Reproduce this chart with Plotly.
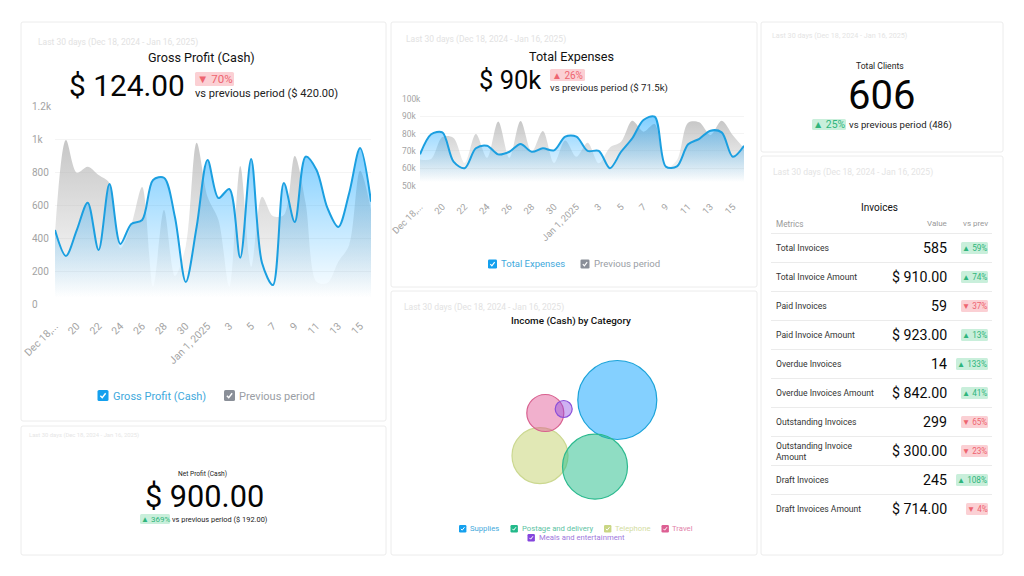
import plotly.graph_objects as go

W, H = 1024, 576
FONT = "Roboto"

# ---------- data ----------
days = ["Dec 18","Dec 19","Dec 20","Dec 21","Dec 22","Dec 23","Dec 24","Dec 25","Dec 26","Dec 27",
        "Dec 28","Dec 29","Dec 30","Dec 31","Jan 1","Jan 2","Jan 3","Jan 4","Jan 5","Jan 6",
        "Jan 7","Jan 8","Jan 9","Jan 10","Jan 11","Jan 12","Jan 13","Jan 14","Jan 15","Jan 16"]
tick_days = days[0::2]
tick_labels_a = ["Dec 18,...","20","22","24","26","28","30","Jan 1, 2025","3","5","7","9","11","13","15"]
tick_labels_b = ["Dec 18,...","20","22","24","26","28","30","Jan 1, 2025","3","5","7","9","11","13","15"]

gross_profit = [448,291,448,614,327,727,364,485,509,752,765,529,133,468,873,642,697,281,879,248,115,733,497,893,812,582,467,673,945,620]
gross_prev   = [430,994,796,832,782,733,339,479,709,105,570,170,350,978,650,509,105,836,226,650,533,539,897,612,135,127,256,358,808,570]
gp_ticks = [0,200,400,600,800,1000,1200]
gp_tick_text = ["0","200","400","600","800","1k","1.2k"]

expenses      = [68,79.6,80.7,63.8,60,71.5,73,68,69.5,74,69.5,71.5,70.3,78.2,78.2,70,70,60,69.5,77.3,87.9,89.8,60.9,61,73.8,77,81.7,80.7,66.6,73]
expenses_prev = [65,65.3,78,77.5,63,79.7,66,87,66,87.3,69.5,81.5,63,76,66.6,74.7,62.8,72,75.3,87.4,81.1,85.5,60,64.7,86.3,86.5,79.2,87.4,79,71.5]
ex_ticks = [50,60,70,80,90,100]
ex_tick_text = ["50k","60k","70k","80k","90k","100k"]

bubble_names = ["Telephone","Supplies","Postage and delivery","Travel","Meals and entertainment"]
bubble_x     = [140,217.3,195,145.3,163.7]
bubble_y     = [59.3,115,48.3,102,106]
bubble_size  = [56,79,65,37,17]
bubble_fill  = ["rgba(200,214,120,0.55)","rgba(20,165,255,0.52)","rgba(40,190,140,0.52)","rgba(226,90,150,0.48)","rgba(138,70,225,0.42)"]
bubble_line  = ["#cbd890","#1ba3d9","#2dba8f","#d8608f","#8a4fd8"]

metrics = ["Total Invoices","Total Invoice Amount","Paid Invoices","Paid Invoice Amount","Overdue Invoices",
           "Overdue Invoices Amount","Outstanding Invoices","Outstanding Invoice<br>Amount","Draft Invoices","Draft Invoices Amount"]
metric_values = ["585","$ 910.00","59","$ 923.00","14","$ 842.00","299","$ 300.00","245","$ 714.00"]
metric_change = [59,74,-37,13,133,41,-65,-23,108,-4]

PERIOD = "Last 30 days (Dec 18, 2024 - Jan 16, 2025)"

# ---------- helpers ----------
def px(x): return x / W
def py(y): return 1 - y / H

shapes, annots = [], []

def text(x, y, s, size, color="#111", anchor="left", weight=400):
    annots.append(dict(x=px(x), y=py(y), xref="paper", yref="paper", text=s, showarrow=False,
                       xanchor=anchor, yanchor="middle", align="left",
                       font=dict(family=FONT, size=size, color=color, weight=weight), borderpad=0, borderwidth=0))

def rrect(x0, y0, x1, y1, r, fill, line=None):
    a, b, c, d = px(x0), py(y0), px(x1), py(y1)
    rx, ry = r / W, r / H
    p = (f"M{a+rx},{b} L{c-rx},{b} Q{c},{b} {c},{b-ry} L{c},{d+ry} Q{c},{d} {c-rx},{d} "
         f"L{a+rx},{d} Q{a},{d} {a},{d+ry} L{a},{b-ry} Q{a},{b} {a+rx},{b} Z")
    shapes.append(dict(type="path", path=p, xref="paper", yref="paper", fillcolor=fill,
                       line=dict(color=line or fill, width=1 if line else 0), layer="below"))

def check(x0, y0, s, color):
    rrect(x0, y0, x0 + s, y0 + s, max(1.2, s * 0.14), color)
    p = (f"M{px(x0+s*.26)},{py(y0+s*.52)} L{px(x0+s*.43)},{py(y0+s*.70)} L{px(x0+s*.74)},{py(y0+s*.30)}")
    shapes.append(dict(type="path", path=p, xref="paper", yref="paper",
                       line=dict(color="white", width=max(1, s * 0.13)), layer="above"))

GREEN_BG, GREEN_TX, RED_BG, RED_TX = "#c9efdb", "#2fb57c", "#fbd0d4", "#ee6470"

def badge(x0, y0, x1, y1, pct, size):
    up, good = pct[0]
    arrow = "▲" if up else "▼"
    rrect(x0, y0, x1, y1, 1.5, GREEN_BG if good else RED_BG)
    text((x0 + x1) / 2, (y0 + y1) / 2, f"{arrow} {pct[1]}%", size, GREEN_TX if good else RED_TX, "center")

# ---------- cards ----------
for c in [(21,22,386,421),(21,426,386,555),(391,22,757,287),(391,291,757,555),(761,22,1003,152),(761,156,1003,555)]:
    rrect(*c, 2, "#ffffff", "#ececec")

# card 1
text(38, 42.5, PERIOD, 8.5, "#e2e2e2")
text(201, 58, "Gross Profit (Cash)", 12.6, "#111", "center")
text(126.5, 85.5, "$ 124.00", 29.8, "#050505", "center")
badge(195, 72, 234, 86, ((False, False), 70), 11.5)
text(195, 94, "vs previous period ($ 420.00)", 11.1, "#222")
check(97.5, 390, 11, "#14a0ee")
text(113, 396, "Gross Profit (Cash)", 11, "#3fa9dc")
check(224, 390, 11, "#8a8f98")
text(239, 396, "Previous period", 11, "#9a9ea5")

# card 2
text(29, 435.5, PERIOD, 5.85, "#e6e6e6")
text(202, 474, "Net Profit (Cash)", 6.6, "#222", "center")
text(204, 496, "$ 900.00", 30.7, "#050505", "center")
badge(140, 514, 170, 524, ((True, True), 369), 8)
text(172, 519, "vs previous period ($ 192.00)", 7.4, "#222")

# card 3
text(406, 40, PERIOD, 8.5, "#e2e2e2")
text(571, 56.5, "Total Expenses", 12.6, "#111", "center")
text(510, 80, "$ 90k", 25.5, "#050505", "center")
badge(550, 69, 585, 81, ((True, False), 26), 10)
text(550, 88, "vs previous period ($ 71.5k)", 9.6, "#222")
check(488, 259.5, 9, "#14a0ee")
text(501, 264, "Total Expenses", 9.5, "#3fa9dc")
check(580.5, 259.5, 9, "#8a8f98")
text(593.5, 264, "Previous period", 9.6, "#9a9ea5")

# card 4
text(404, 307, PERIOD, 8.5, "#e2e2e2")
text(571, 321, "Income (Cash) by Category", 9.9, "#111", "center", 500)
for x0, y0, col, tx, ty, name, tc in [
    (459, 525, "#14a0ee", 470, 528.5, "Supplies", "#3fa9dc"),
    (510.5, 525, "#22b98a", 521.5, 528.5, "Postage and delivery", "#5cc3a3"),
    (604, 525, "#c9d684", 614.5, 528.5, "Telephone", "#d3dd9f"),
    (661.5, 525, "#dd5f93", 672, 528.5, "Travel", "#e283aa"),
    (527.5, 534, "#8445dd", 538.5, 537.5, "Meals and entertainment", "#a077dd")]:
    check(x0, y0, 7.4, col)
    text(tx, ty, name, 7.7, tc)

# card 5
text(772, 35.5, PERIOD, 7.2, "#e4e4e4")
text(879.5, 66, "Total Clients", 8.6, "#222", "center")
text(881, 95, "606", 40, "#050505", "center")
badge(812, 119, 846, 130, ((True, True), 25), 10.4)
text(849, 125, "vs previous period (486)", 9.6, "#222")

# card 6
text(773, 172.5, PERIOD, 8.5, "#e4e4e4")
text(879, 207, "Invoices", 10, "#111", "center")
text(776, 224, "Metrics", 8.2, "#999")
text(947, 224, "Value", 8, "#999", "right")
text(988, 224, "vs prev", 8, "#999", "right")
row_h = 29.0
for i, (m, v, c) in enumerate(zip(metrics, metric_values, metric_change)):
    cy = 248 + row_h * i
    text(776, cy, m, 8.6, "#333")
    text(947, cy, v, 14.2, "#0a0a0a", "right")
    good = c > 0
    w = 8 + len(str(abs(c))) * 5 + 9
    badge(988 - w, cy - 6, 988, cy + 6, ((good, good), abs(c)), 8.2)
    yl = py(233.5 + row_h * i)
    shapes.append(dict(type="line", xref="paper", yref="paper", x0=px(771), x1=px(992), y0=yl, y1=yl,
                       line=dict(color="#ebebeb", width=1), layer="below"))

# ---------- figure ----------
fig = go.Figure()

def area(xa, ya, ys, color, top, start, stop, line=False, name=""):
    fig.add_trace(go.Scatter(
        x=days, y=ys, xaxis=xa, yaxis=ya, name=name, mode="lines",
        line=dict(shape="spline", smoothing=0.9, color=color if line else "rgba(0,0,0,0)", width=2 if line else 0),
        fill="tozeroy", fillcolor=top,
        fillgradient=dict(type="vertical", start=start, stop=stop,
                          colorscale=[[0, top], [1, top.rsplit(",", 1)[0] + ",0)"]]),
        hoverinfo="skip", showlegend=False))

GRAY = "rgba(176,176,176,0.72)"
BLUE = "rgba(20,165,255,0.55)"
area("x", "y", gross_prev, GRAY, GRAY, 1000, 40, name="Previous period")
area("x", "y", gross_profit, "#1b9fe0", BLUE, 950, 40, True, "Gross Profit (Cash)")
area("x2", "y2", expenses_prev, GRAY, GRAY, 88, 52, name="Previous period")
area("x2", "y2", expenses, "#1b9fe0", BLUE, 90, 52, True, "Total Expenses")

for n, bx, by, bs, bf, bl in zip(bubble_names, bubble_x, bubble_y, bubble_size, bubble_fill, bubble_line):
    fig.add_trace(go.Scatter(x=[bx], y=[by], xaxis="x3", yaxis="y3", name=n, mode="markers",
                             marker=dict(size=bs, sizemode="diameter", color=bf, line=dict(color=bl, width=1.2)),
                             hoverinfo="skip", showlegend=False))

# left-aligned value labels, placed through the y axes
for vals, labels, yr, x, size in [(gp_ticks, gp_tick_text, "y", 30, 10), (ex_ticks, ex_tick_text, "y2", 399.5, 8.4)]:
    for v, s in zip(vals, labels):
        annots.append(dict(x=px(x), y=v, xref="paper", yref=yr, text=s, showarrow=False, xanchor="left",
                           yanchor="middle", font=dict(family=FONT, size=size, color="#a3a3a3")))

def xax(dom, labels, size, standoff, anchor):
    return dict(domain=[px(dom[0]), px(dom[1])], type="category", categoryorder="array", categoryarray=days,
                anchor=anchor, range=[0, 29], tickmode="array", tickvals=tick_days, ticktext=labels, tickangle=-45,
                tickfont=dict(family=FONT, size=size, color="#a3a3a3"), showgrid=False, showline=False,
                zeroline=False, ticks="", ticklabelstandoff=standoff, automargin=False)

def yax(dom, rng, vals, anchor):
    return dict(domain=[py(dom[0]), py(dom[1])], range=rng, tickmode="array", tickvals=vals, showticklabels=False,
                anchor=anchor, showgrid=True, gridcolor="#f4f4f4", gridwidth=1, zeroline=False, showline=False,
                ticks="", automargin=False)

fig.update_layout(
    width=W, height=H, margin=dict(l=0, r=0, t=0, b=0), autosize=False,
    paper_bgcolor="white", plot_bgcolor="rgba(0,0,0,0)", showlegend=False,
    font=dict(family=FONT),
    xaxis=xax((55, 371), tick_labels_a, 10.4, 13, "y"),
    yaxis=yax((304, 106), [0, 1200], gp_ticks, "x"),
    xaxis2=xax((420, 744), tick_labels_b, 9.4, 13, "y2"),
    yaxis2=yax((185.5, 99), [50, 100], ex_ticks, "x2"),
    xaxis3=dict(domain=[px(400), px(750)], range=[0, 350], visible=False, anchor="y3"),
    yaxis3=dict(domain=[py(515), py(335)], range=[0, 180], visible=False, anchor="x3"),
    shapes=shapes, annotations=annots)

fig.write_html("out.html", config={"displayModeBar": False},
               post_script="document.body.style.margin='0';document.documentElement.style.overflow='hidden';")
